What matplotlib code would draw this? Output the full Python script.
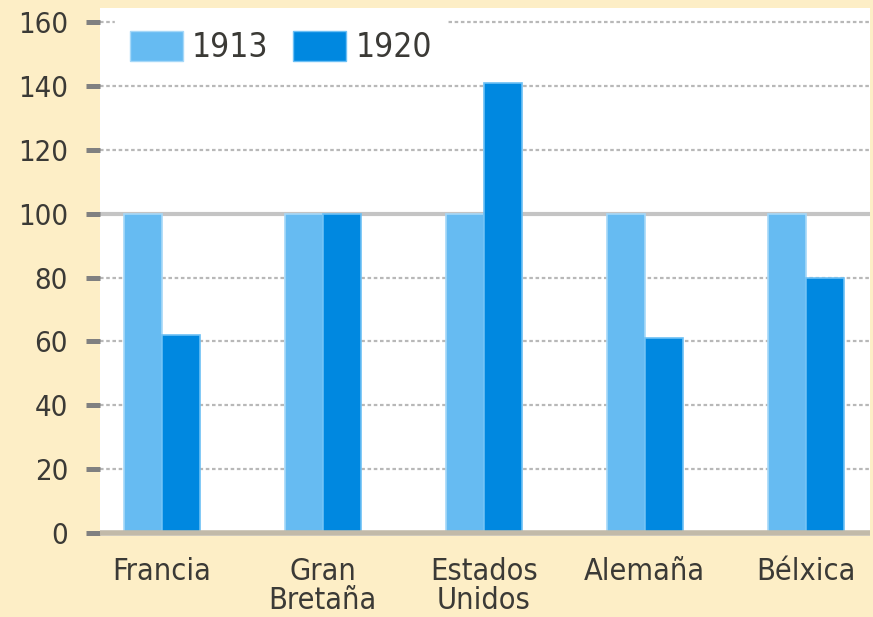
import numpy as np
import matplotlib
matplotlib.use('Agg')
import matplotlib.pyplot as plt
from matplotlib.patches import Patch

categories = ['Francia', 'Gran\nBretaña', 'Estados\nUnidos', 'Alemaña', 'Bélxica']
v1913 = [100, 100, 100, 100, 100]
v1920 = [62, 100, 141, 61, 80]
yticks = [0, 20, 40, 60, 80, 100, 120, 140, 160]

c1913 = '#66bbf2'
c1920 = '#0088e0'
cream = '#fdeec6'
txt = '#3b3a36'

plt.rcParams['font.family'] = ['DejaVu Sans']
plt.rcParams['font.stretch'] = 'condensed'

fig = plt.figure(figsize=(8.73, 6.17), dpi=100)
fig.patch.set_facecolor(cream)
ax = fig.add_axes([0.1145, 0.131, 0.882, 0.856])
ax.set_facecolor('white')

x = np.arange(len(categories))
w = 0.236
ax.bar(x - w / 2, v1913, w, color=c1913, edgecolor='#a6d8f8', linewidth=1.2, zorder=3)
ax.bar(x + w / 2, v1920, w, color=c1920, edgecolor='#6cc0f5', linewidth=1.2, zorder=3)

# grid
for t in yticks[1:]:
    if t == 100:
        ax.axhline(t, color='#c4c4c4', lw=3, zorder=1)
    else:
        ax.axhline(t, color='#b8b8b8', lw=1.6, ls=(0, (1.6, 1.2)), zorder=1)
ax.axhline(0, color='#c2baa9', lw=4, zorder=4)

ax.set_xlim(-0.385, 4.40)
ax.set_ylim(-1, 164.4)
ax.set_yticks(yticks)
ax.set_yticklabels([str(t) for t in yticks], fontsize=21, color=txt)
ax.tick_params(axis='y', direction='out', length=10, width=3.6, color='#808080', pad=13)
ax.set_xticks(x)
ax.set_xticklabels(categories, fontsize=22, color=txt, linespacing=1.0, va='top')
ax.tick_params(axis='x', length=0, pad=15)
for s in ax.spines.values():
    s.set_visible(False)

handles = [Patch(facecolor=c1913, edgecolor='#a6d8f8'), Patch(facecolor=c1920, edgecolor='#6cc0f5')]
leg = ax.legend(handles, ['1913', '1920'], ncol=2, loc='upper left', bbox_to_anchor=(0.0195, 0.985),
                frameon=True, facecolor='white', edgecolor='white', framealpha=1, fancybox=False,
                fontsize=24, handlelength=1.59, handleheight=1.0, handletextpad=0.27,
                columnspacing=0.75, borderpad=0.45, borderaxespad=0)
for t in leg.get_texts():
    t.set_color(txt)
leg.set_zorder(5)

fig.savefig('out.png', dpi=100, facecolor=cream)
